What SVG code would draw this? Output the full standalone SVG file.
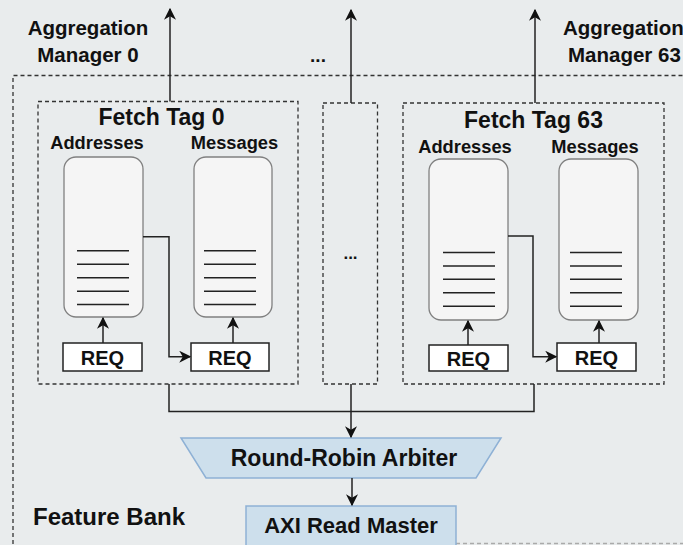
<svg xmlns="http://www.w3.org/2000/svg" width="683" height="545" viewBox="0 0 683 545">
  <defs>
    <marker id="arrowL" viewBox="0 0 10 10" refX="9" refY="5" markerWidth="12" markerHeight="12" markerUnits="userSpaceOnUse" orient="auto">
      <path d="M0,0 L10,5 L0,10 L3,5 Z" fill="#111"/>
    </marker>
  </defs>
  <style>
    text { font-family: "Liberation Sans", Arial, sans-serif; font-weight: bold; fill: #111; }
    .dash { fill: none; stroke: #333; stroke-width: 1.3; stroke-dasharray: 4 3; }
    .queue { fill: #f5f5f5; stroke: #808080; stroke-width: 1.3; }
    .slot { stroke: #222; stroke-width: 1.5; }
    .req { fill: #fff; stroke: #222; stroke-width: 1.5; }
    .wire { fill: none; stroke: #222; stroke-width: 1.5; }
    .blue { fill: #cddfec; stroke: #8eb1d5; stroke-width: 1.5; }
  </style>

  <rect width="683" height="545" fill="#e9eced"/>

  <!-- Feature Bank outer frame -->
  <g id="feature-bank">
    <path class="dash" d="M13,544 L13,75.5 L690,75.5"/>
    <line x1="456" y1="543.5" x2="683" y2="543.5" stroke="#aaa" stroke-width="1.3" stroke-dasharray="4 3"/>
    <text x="33" y="525" font-size="24">Feature Bank</text>
  </g>

  <!-- Aggregation manager labels -->
  <g id="agg-mgr-0">
    <text x="88" y="35" font-size="20.5" text-anchor="middle">Aggregation</text>
    <text x="88" y="62" font-size="20.5" text-anchor="middle">Manager 0</text>
  </g>
  <g id="agg-mgr-dots">
    <text x="318" y="62" font-size="19" text-anchor="middle">...</text>
  </g>
  <g id="agg-mgr-63">
    <text x="563" y="35" font-size="20.5">Aggregation</text>
    <text x="568" y="62" font-size="20.5">Manager 63</text>
  </g>

  <!-- Fetch Tag 0 -->
  <g id="fetch-tag-0">
    <rect class="dash" x="38" y="101.5" width="260" height="282.5"/>
    <text x="161.5" y="125" font-size="23" text-anchor="middle">Fetch Tag 0</text>
    <text x="97" y="149" font-size="18.3" text-anchor="middle">Addresses</text>
    <text x="234.5" y="149" font-size="18.3" text-anchor="middle">Messages</text>
    <g id="tag0-addr-queue">
      <rect class="queue" x="64" y="157" width="79" height="160" rx="12"/>
      <line class="slot" x1="77" y1="250.7" x2="129" y2="250.7"/>
      <line class="slot" x1="77" y1="264.2" x2="129" y2="264.2"/>
      <line class="slot" x1="77" y1="277.7" x2="129" y2="277.7"/>
      <line class="slot" x1="77" y1="291.2" x2="129" y2="291.2"/>
      <line class="slot" x1="77" y1="304.5" x2="129" y2="304.5"/>
    </g>
    <g id="tag0-msg-queue">
      <rect class="queue" x="194" y="157" width="78" height="160" rx="12"/>
      <line class="slot" x1="204" y1="250.7" x2="256" y2="250.7"/>
      <line class="slot" x1="204" y1="264.2" x2="256" y2="264.2"/>
      <line class="slot" x1="204" y1="277.7" x2="256" y2="277.7"/>
      <line class="slot" x1="204" y1="291.2" x2="256" y2="291.2"/>
      <line class="slot" x1="204" y1="304.5" x2="256" y2="304.5"/>
    </g>
    <g id="tag0-addr-req">
      <rect class="req" x="63" y="343" width="79" height="28"/>
      <text x="102.5" y="364.5" font-size="20" text-anchor="middle">REQ</text>
    </g>
    <g id="tag0-msg-req">
      <rect class="req" x="191" y="343" width="78" height="28"/>
      <text x="230" y="364.5" font-size="20" text-anchor="middle">REQ</text>
    </g>
  </g>

  <!-- Elided fetch tags -->
  <g id="fetch-tag-dots">
    <rect class="dash" x="323" y="103" width="54.5" height="281"/>
    <text x="350.5" y="259" font-size="17" text-anchor="middle">...</text>
  </g>

  <!-- Fetch Tag 63 -->
  <g id="fetch-tag-63">
    <rect class="dash" x="403" y="103" width="261" height="281"/>
    <text x="533.5" y="128" font-size="23" text-anchor="middle">Fetch Tag 63</text>
    <text x="465" y="152.5" font-size="18.3" text-anchor="middle">Addresses</text>
    <text x="595" y="152.5" font-size="18.3" text-anchor="middle">Messages</text>
    <g id="tag63-addr-queue">
      <rect class="queue" x="429" y="159" width="79" height="161" rx="12"/>
      <line class="slot" x1="443" y1="252.5" x2="495" y2="252.5"/>
      <line class="slot" x1="443" y1="266" x2="495" y2="266"/>
      <line class="slot" x1="443" y1="279.3" x2="495" y2="279.3"/>
      <line class="slot" x1="443" y1="292.8" x2="495" y2="292.8"/>
      <line class="slot" x1="443" y1="306.2" x2="495" y2="306.2"/>
    </g>
    <g id="tag63-msg-queue">
      <rect class="queue" x="559" y="159" width="79" height="161" rx="12"/>
      <line class="slot" x1="570" y1="252.5" x2="622" y2="252.5"/>
      <line class="slot" x1="570" y1="266" x2="622" y2="266"/>
      <line class="slot" x1="570" y1="279.3" x2="622" y2="279.3"/>
      <line class="slot" x1="570" y1="292.8" x2="622" y2="292.8"/>
      <line class="slot" x1="570" y1="306.2" x2="622" y2="306.2"/>
    </g>
    <g id="tag63-addr-req">
      <rect class="req" x="429" y="345" width="79" height="26"/>
      <text x="468.5" y="365.5" font-size="20" text-anchor="middle">REQ</text>
    </g>
    <g id="tag63-msg-req">
      <rect class="req" x="557" y="343" width="79" height="28"/>
      <text x="596.5" y="364.5" font-size="20" text-anchor="middle">REQ</text>
    </g>
  </g>

  <!-- Arbiter and AXI master -->
  <g id="arbiter">
    <polygon class="blue" points="181,438 501,438 476,478 206,478"/>
    <text x="344" y="466" font-size="23" text-anchor="middle">Round-Robin Arbiter</text>
  </g>
  <g id="axi-read-master">
    <rect class="blue" x="246" y="506" width="210" height="45"/>
    <text x="351" y="533" font-size="22" text-anchor="middle">AXI Read Master</text>
  </g>

  <!-- Connectors -->
  <g id="connectors">
    <line class="wire" x1="170" y1="101.5" x2="170" y2="9" marker-end="url(#arrowL)"/>
    <line class="wire" x1="351" y1="103" x2="351" y2="10" marker-end="url(#arrowL)"/>
    <line class="wire" x1="535" y1="103" x2="535" y2="10" marker-end="url(#arrowL)"/>

    <line class="wire" x1="103" y1="343" x2="103" y2="318" marker-end="url(#arrowL)"/>
    <line class="wire" x1="233" y1="343" x2="233" y2="318" marker-end="url(#arrowL)"/>
    <polyline class="wire" points="143,236.7 169,236.7 169,356.7 190,356.7" marker-end="url(#arrowL)"/>

    <line class="wire" x1="468" y1="345" x2="468" y2="321" marker-end="url(#arrowL)"/>
    <line class="wire" x1="599" y1="343" x2="599" y2="321" marker-end="url(#arrowL)"/>
    <polyline class="wire" points="508,236 533,236 533,356.7 556,356.7" marker-end="url(#arrowL)"/>

    <polyline class="wire" points="169,384 169,411.5 534,411.5 534,384"/>
    <line class="wire" x1="351" y1="384" x2="351" y2="437" marker-end="url(#arrowL)"/>
    <line class="wire" x1="352" y1="478" x2="352" y2="505" marker-end="url(#arrowL)"/>
  </g>
</svg>
